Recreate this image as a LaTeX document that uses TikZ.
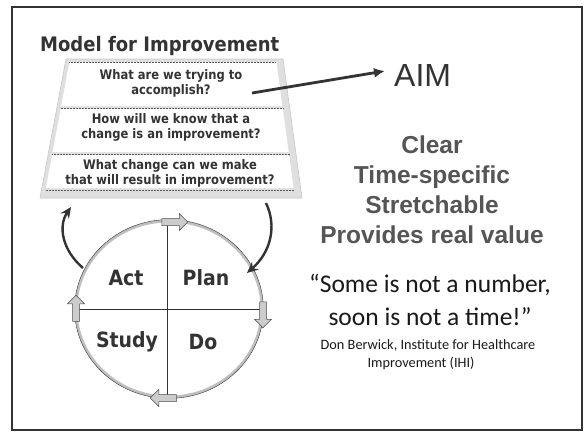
\documentclass[tikz,border=0pt]{standalone}
\usepackage{fontspec}
\usetikzlibrary{shapes.geometric,shapes.arrows,arrows.meta,calc}
\newfontfamily\vfont{DejaVu Sans}[FakeStretch=0.88]
\newfontfamily\vfontw{DejaVu Sans}[FakeStretch=0.9]
\newfontfamily\afont{Liberation Sans}
\newfontfamily\cfont{Carlito}
\definecolor{ink}{HTML}{333333}
\definecolor{greytext}{HTML}{555555}
\tikzset{
  rowbox/.style={fill=white},
  rowline/.style={gray!70!black, densely dotted, line width=0.5pt},
  qtext/.style={font={\vfont\bfseries\fontsize{13.1}{15}\selectfont}, text=ink, align=center, inner sep=0pt},
  quad/.style={font={\vfontw\bfseries\fontsize{21}{22}\selectfont}, text=ink, inner sep=0pt},
  aimtxt/.style={font={\afont\bfseries\fontsize{24.5}{30}\selectfont}, text=greytext, anchor=base, inner sep=0pt},
  quote/.style={font={\cfont\fontsize{25.5}{33}\selectfont}, text=black!90, anchor=base, inner sep=0pt},
  attrib/.style={font={\cfont\fontsize{14.3}{16}\selectfont}, text=black!90, anchor=base, inner sep=0pt},
  ringarrow/.style={single arrow, draw=gray!60!black, fill=gray!40, minimum height=26pt, minimum width=17pt, inner sep=1.5pt, single arrow head extend=2.5pt, line width=0.5pt},
  cyclearrow/.style={ink, line width=2.4pt, -{Stealth[length=11pt,width=10pt]}}
}
\begin{document}
\begin{tikzpicture}[x=1pt,y=-1pt]
\useasboundingbox (0,0) rectangle (587,434);
\draw[ink, line width=1.6pt] (12,7) rectangle (582,430);

% title
\node[anchor=base west, font={\vfontw\bfseries\fontsize{20}{22}\selectfont}, text=ink, inner sep=0pt] (title) at (40,51) {Model for Improvement};

% trapezoid
\fill[gray!25] (66,59) -- (283,59) -- (302,198) -- (40,198) -- cycle;
\draw[gray!45, line width=0.6pt] (66,59) -- (283,59) -- (302,198) -- (40,198) -- cycle;
\fill[rowbox] (69.4,62) -- (276.4,62) -- (282.4,106) -- (61.2,106) -- cycle;
\fill[rowbox] (60.6,109) -- (282.8,109) -- (288.7,152) -- (52.6,152) -- cycle;
\fill[rowbox] (52.0,155) -- (289.1,155) -- (293.6,188) -- (45.9,188) -- cycle;
\draw[rowline] (69.4,62) -- (276.4,62);
\draw[rowline] (60.6,108) -- (282.8,108);
\draw[rowline] (52.0,154) -- (289.1,154);
\draw[rowline] (45.9,190) -- (293.6,190);

\node[qtext] (q1) at (171,83) {What are we trying to\\accomplish?};
\node[qtext] (q2) at (171,127.5) {How will we know that a\\change is an improvement?};
\node[qtext] (q3) at (170,173) {What change can we make\\that will result in improvement?};

% AIM
\node[anchor=base west, font={\afont\fontsize{32}{32}\selectfont}, text=ink, inner sep=0pt] (aim) at (394,86) {AIM};
\coordinate (aimfrom) at (252,93);
\draw[ink, line width=2.8pt, -{Latex[length=11pt,width=10pt]}] (aimfrom) -- ($(aim.west)+(-9,-4)$);

% right column text
\node[aimtxt] (c1) at (432,153) {Clear};
\node[aimtxt] (c2) at (432,183) {Time-specific};
\node[aimtxt] (c3) at (432,213) {Stretchable};
\node[aimtxt] (c4) at (432,243) {Provides real value};

\node[quote] (qt1) at (430,292) {“Some is not a number,};
\node[quote] (qt2) at (430,325) {soon is not a time!”};
\node[attrib] (at1) at (428,349) {Don Berwick, Institute for Healthcare};
\node[attrib] (at2) at (421,367) {Improvement (IHI)};

% PDCA circle
\node[ellipse, draw=gray!50, line width=2.8pt, minimum width=186pt, minimum height=176pt, inner sep=0pt] (pdca) at (169,309) {};
\draw[gray!40!black, line width=0.4pt] (pdca) ellipse [x radius=94.4pt, y radius=89.4pt];
\draw[ink, line width=1pt] (167,221) -- (167,397);
\draw[ink, line width=1pt] (pdca.west) -- (pdca.east);

\node[quad] (act) at (126,278) {Act};
\node[quad] (plan) at (206,278) {Plan};
\node[quad] (study) at (127,342) {Study};
\node[quad] (do) at (203,342) {Do};

\node[ringarrow] (ra1) at (173,222) {};
\node[ringarrow, shape border rotate=270] (ra2) at (263,313) {};
\node[ringarrow, shape border rotate=180] (ra3) at (165,398) {};
\node[ringarrow, shape border rotate=90] (ra4) at (76,310) {};

% cycle arrows
\coordinate (la0) at (83,268);
\coordinate (la1) at (71,207);
\draw[cyclearrow] (la0) .. controls (62,250) and (58,226) .. (la1);
\coordinate (rb0) at (266,203);
\coordinate (rb1) at (247,273);
\draw[cyclearrow] (rb0) .. controls (277,226) and (271,252) .. (rb1);
\end{tikzpicture}
\end{document}
